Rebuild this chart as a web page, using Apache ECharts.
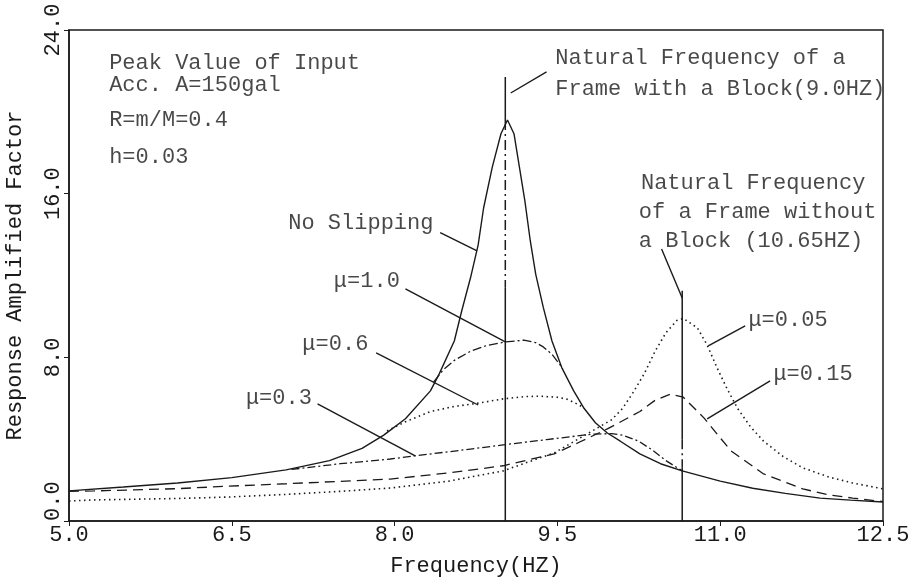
<!DOCTYPE html>
<html>
<head>
<meta charset="utf-8">
<script src="https://cdn.jsdelivr.net/npm/echarts@6/dist/echarts.min.js"></script>
<style>
  html, body { margin: 0; padding: 0; background: #fff; }
  #chart { width: 913px; height: 582px; }
</style>
</head>
<body>
<div id="chart"></div>
<script>
// 轴刻度
const xTicks = [5.0, 6.5, 8.0, 9.5, 11.0, 12.5];
const yTicks = [0.0, 8.0, 16.0, 24.0];

// 曲线数据 [频率, 放大系数]
const noSlipping = [
  [5.0, 1.47], [5.5, 1.66], [6.0, 1.86], [6.5, 2.12], [7.0, 2.5], [7.4, 2.95],
  [7.7, 3.55], [7.9, 4.2], [8.1, 5.0], [8.33, 6.36], [8.41, 7.18], [8.55, 8.8],
  [8.62, 10.3], [8.70, 11.9], [8.77, 13.5], [8.82, 15.3], [8.90, 17.3], [8.98, 18.93],
  [9.04, 19.6], [9.10, 18.93], [9.15, 17.3], [9.20, 15.66], [9.25, 13.7], [9.30, 12.07],
  [9.37, 10.44], [9.45, 8.8], [9.54, 7.5], [9.65, 6.36], [9.74, 5.55], [9.85, 4.8],
  [9.96, 4.3], [10.08, 3.9], [10.26, 3.28], [10.45, 2.8], [10.65, 2.45], [11.0, 1.95],
  [11.3, 1.6], [11.6, 1.35], [11.92, 1.12], [12.2, 1.02], [12.5, 0.93]
];
const mu10 = [
  [8.36, 6.8], [8.45, 7.4], [8.55, 7.85], [8.7, 8.3], [8.85, 8.58], [9.02, 8.75],
  [9.19, 8.84], [9.3, 8.72], [9.37, 8.51], [9.45, 8.15], [9.55, 7.45]
];
const mu06 = [
  [7.93, 4.4], [8.1, 4.85], [8.33, 5.35], [8.55, 5.6], [8.76, 5.75], [9.0, 5.97],
  [9.2, 6.08], [9.34, 6.1], [9.5, 6.05], [9.59, 5.95], [9.67, 5.75], [9.74, 5.55]
];
const mu03 = [
  [7.05, 2.52], [7.5, 2.8], [7.96, 3.03], [8.18, 3.18], [8.6, 3.45], [9.0, 3.72],
  [9.4, 3.98], [9.83, 4.25], [10.0, 4.27], [10.1, 4.2], [10.25, 3.9], [10.38, 3.45],
  [10.5, 2.95], [10.65, 2.45]
];
const mu015 = [
  [5.0, 1.45], [5.23, 1.47], [6.0, 1.58], [6.46, 1.7], [7.0, 1.82], [7.5, 1.94],
  [7.96, 2.05], [8.5, 2.35], [9.0, 2.7], [9.47, 3.28], [9.7, 3.85], [9.96, 4.5],
  [10.26, 5.35], [10.4, 5.9], [10.54, 6.2], [10.66, 6.05], [10.85, 5.04], [11.1, 3.42],
  [11.4, 2.3], [11.76, 1.57], [12.0, 1.28], [12.22, 1.12], [12.5, 0.95]
];
const mu005 = [
  [5.0, 0.98], [5.23, 1.03], [6.0, 1.1], [6.46, 1.17], [7.0, 1.3], [7.5, 1.45],
  [7.96, 1.61], [8.5, 1.95], [9.0, 2.45], [9.47, 3.33], [9.87, 4.55], [10.0, 4.95],
  [10.1, 5.5], [10.2, 6.3], [10.3, 7.2], [10.4, 8.3], [10.5, 9.2], [10.6, 9.8],
  [10.66, 9.9], [10.79, 9.44], [10.88, 8.6], [10.97, 7.5], [11.06, 6.5], [11.16, 5.5],
  [11.28, 4.6], [11.4, 3.9], [11.58, 3.15], [11.76, 2.6], [12.0, 2.15], [12.22, 1.86],
  [12.5, 1.57]
];

// 固有频率竖线（实线段 / 点划线段）
const freqLineSolid = [
  [[9.02, 21.7], [9.02, 19.6]],
  [[9.02, 11.4], [9.02, 0]],
  [[10.65, 11.25], [10.65, 4.0]],
  [[10.65, 2.6], [10.65, 0]]
];
const freqLineDashDot = [
  [[9.02, 19.6], [9.02, 11.4]],
  [[10.65, 4.0], [10.65, 2.6]]
];

// 引线
const leaders = [
  [[9.07, 20.92], [9.4, 21.95]],
  [[8.42, 14.09], [8.76, 13.2]],
  [[8.1, 11.35], [9.02, 8.76]],
  [[7.83, 8.22], [8.77, 5.67]],
  [[7.29, 5.72], [8.19, 3.18]],
  [[11.23, 9.54], [10.89, 8.56]],
  [[11.46, 6.85], [10.88, 4.99]],
  [[10.46, 13.3], [10.65, 10.9]]
];

// 标注文字 [x, y, 文本]
const notes = [
  [5.37, 22.4, 'Peak Value of Input'],
  [5.37, 21.28, 'Acc. A=150gal'],
  [5.37, 19.57, 'R=m/M=0.4'],
  [5.37, 17.8, 'h=0.03'],
  [9.48, 22.63, 'Natural Frequency of a'],
  [9.48, 21.13, 'Frame with a Block(9.0HZ)'],
  [10.27, 16.5, 'Natural Frequency'],
  [10.25, 15.1, 'of a Frame without'],
  [10.25, 13.7, 'a Block (10.65HZ)'],
  [7.02, 14.55, 'No Slipping'],
  [7.44, 11.74, 'μ=1.0'],
  [7.15, 8.66, 'μ=0.6'],
  [6.63, 6.0, 'μ=0.3'],
  [11.26, 9.83, 'μ=0.05'],
  [11.49, 7.2, 'μ=0.15']
];

const FONT = '"Liberation Mono", "DejaVu Sans Mono", monospace';
const INK = '#1a1a1a';

const chart = echarts.init(document.getElementById('chart'));

function curve(name, data, type, width) {
  return {
    name: name,
    type: 'line',
    data: data,
    showSymbol: false,
    symbol: 'none',
    silent: true,
    z: 3,
    lineStyle: { color: INK, width: width || 1.3, type: type }
  };
}

const series = [
  curve('No Slipping', noSlipping, 'solid', 1.4),
  curve('μ=1.0', mu10, [9, 3, 2, 3]),
  curve('μ=0.6', mu06, [1.5, 3.5], 1.6),
  curve('μ=0.3', mu03, [8, 3, 2, 3]),
  curve('μ=0.15', mu015, [10, 6]),
  curve('μ=0.05', mu005, [1.5, 3.5], 1.6)
];

freqLineSolid.forEach(seg => series.push(curve('', seg, 'solid', 1.5)));
freqLineDashDot.forEach(seg => series.push(curve('', seg, [10, 4, 2, 4], 1.5)));
leaders.forEach(seg => series.push(curve('', seg, 'solid', 1.4)));

series.push({
  type: 'scatter',
  data: notes,
  symbolSize: 0,
  silent: true,
  z: 5,
  label: {
    show: true,
    position: 'right',
    distance: 0,
    formatter: p => p.data[2],
    color: INK,
    fontFamily: FONT,
    fontSize: 22
  }
});

const option = {
  animation: false,
  backgroundColor: '#fff',
  grid: {
    left: 69, right: 30, top: 30, bottom: 61,
    outerBoundsMode: 'none',
    containLabel: false,
    show: true, borderColor: INK, borderWidth: 1.5
  },
  xAxis: {
    type: 'value',
    min: xTicks[0],
    max: xTicks[xTicks.length - 1],
    interval: 1.5,
    name: 'Frequency(HZ)',
    nameLocation: 'middle',
    nameGap: 34,
    nameTextStyle: { color: INK, fontFamily: FONT, fontSize: 22 },
    axisLine: { lineStyle: { color: INK, width: 1.5 } },
    axisTick: { inside: false, length: 5, lineStyle: { color: INK } },
    splitLine: { show: false },
    axisLabel: {
      color: INK, fontFamily: FONT, fontSize: 22, margin: 3,
      formatter: v => v.toFixed(1)
    }
  },
  yAxis: {
    type: 'value',
    min: yTicks[0],
    max: yTicks[yTicks.length - 1],
    interval: 8,
    name: 'Response Amplified Factor',
    nameLocation: 'middle',
    nameGap: 43,
    nameTextStyle: { color: INK, fontFamily: FONT, fontSize: 22 },
    axisLine: { lineStyle: { color: INK, width: 1.5 } },
    axisTick: { inside: false, length: 5, lineStyle: { color: INK } },
    splitLine: { show: false },
    axisLabel: {
      color: INK, fontFamily: FONT, fontSize: 22, margin: 5, rotate: 90,
      alignMinLabel: 'left',
      formatter: v => v.toFixed(1)
    }
  },
  series: series
};

chart.setOption(option);
</script>
</body>
</html>
